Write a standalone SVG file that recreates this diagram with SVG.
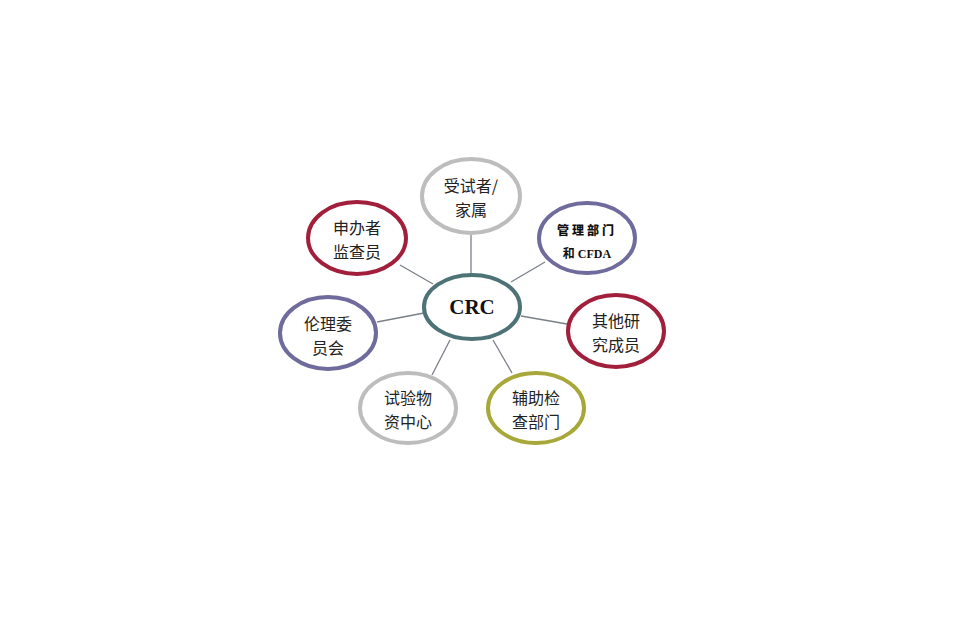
<svg xmlns="http://www.w3.org/2000/svg" width="960" height="633" viewBox="0 0 960 633">
<style>
.n{fill:#fff;stroke-width:4}
.t{font-family:"Noto Sans CJK SC","Liberation Sans",sans-serif;font-size:16px;fill:#222;text-anchor:middle}
.c{stroke:#7a7f88;stroke-width:1.3;fill:none}
</style>
<rect width="960" height="633" fill="#fff"/>
<g id="connectors">
<line class="c" x1="471" y1="234" x2="471" y2="274"/>
<line class="c" x1="400" y1="265" x2="433" y2="284"/>
<line class="c" x1="545" y1="262" x2="511" y2="282"/>
<line class="c" x1="377" y1="322" x2="424" y2="313"/>
<line class="c" x1="521" y1="316" x2="567" y2="324"/>
<line class="c" x1="432" y1="375" x2="450" y2="340"/>
<line class="c" x1="493" y1="340" x2="512" y2="373"/>
</g>
<g id="n-top">
<ellipse class="n" cx="471" cy="196" rx="49" ry="37" stroke="#bdbdbd"/>
<text class="t" x="471" y="192">受试者/</text>
<text class="t" x="471" y="216">家属</text>
</g>
<g id="n-sponsor">
<ellipse class="n" cx="357" cy="238" rx="49" ry="36" stroke="#a21f3c"/>
<text class="t" x="357" y="234">申办者</text>
<text class="t" x="357" y="258">监查员</text>
</g>
<g id="n-admin">
<ellipse class="n" cx="587" cy="238" rx="48" ry="35" stroke="#6f6b9c"/>
<text x="587" y="235" font-family="'Noto Sans CJK SC',sans-serif" font-size="12" font-weight="900" letter-spacing="3" text-anchor="middle" fill="#111">管理部门</text>
<text x="587" y="258" font-family="'Liberation Serif','Noto Sans CJK SC',serif" font-size="12" font-weight="bold" text-anchor="middle" fill="#111">和 CFDA</text>
</g>
<g id="n-crc">
<ellipse class="n" cx="472" cy="307" rx="48" ry="32" stroke="#4e7377"/>
<text x="472" y="314" font-family="'Liberation Serif',serif" font-size="21" font-weight="bold" text-anchor="middle" fill="#111">CRC</text>
</g>
<g id="n-ethics">
<ellipse class="n" cx="328" cy="333" rx="48" ry="36" stroke="#6f6b9c"/>
<text class="t" x="328" y="330">伦理委</text>
<text class="t" x="328" y="354">员会</text>
</g>
<g id="n-other">
<ellipse class="n" cx="616" cy="331" rx="48" ry="36" stroke="#a21f3c"/>
<text class="t" x="616" y="327">其他研</text>
<text class="t" x="616" y="351">究成员</text>
</g>
<g id="n-supply">
<ellipse class="n" cx="408" cy="408" rx="48" ry="35" stroke="#bdbdbd"/>
<text class="t" x="408" y="404">试验物</text>
<text class="t" x="408" y="428">资中心</text>
</g>
<g id="n-aux">
<ellipse class="n" cx="536" cy="408" rx="48" ry="35" stroke="#a8a83a"/>
<text class="t" x="536" y="404">辅助检</text>
<text class="t" x="536" y="428">查部门</text>
</g>
</svg>
